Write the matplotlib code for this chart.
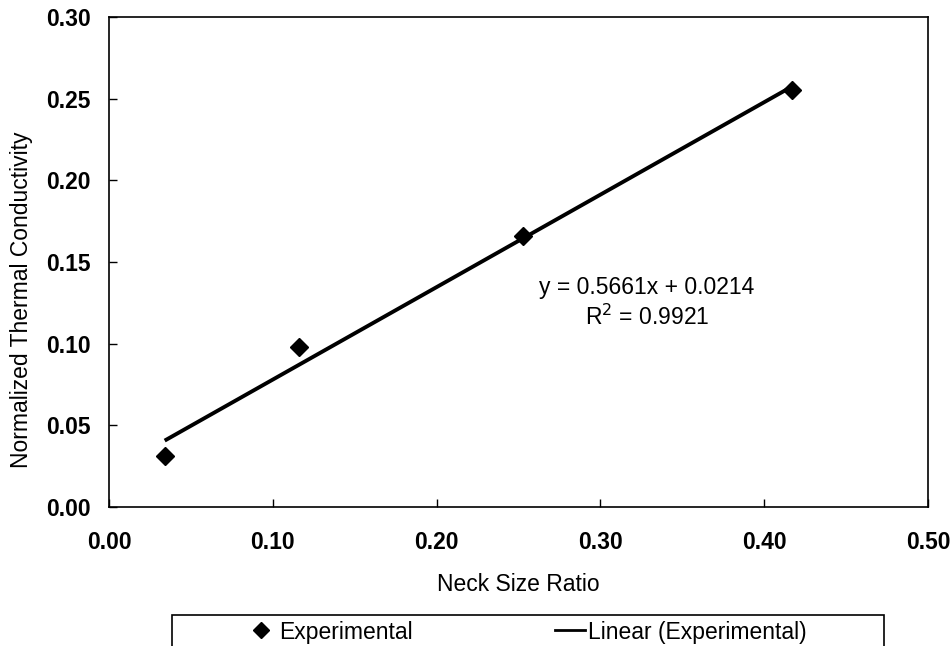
import matplotlib
matplotlib.use("Agg")
import matplotlib.pyplot as plt
from matplotlib.lines import Line2D
from matplotlib.patches import Rectangle

# data
neck_ratio = [0.034, 0.116, 0.253, 0.417]
conductivity = [0.031, 0.098, 0.166, 0.255]
slope = 0.5661
intercept = 0.0214
r_squared = 0.9921
x_ticks = [0.0, 0.1, 0.2, 0.3, 0.4, 0.5]
y_ticks = [0.0, 0.05, 0.10, 0.15, 0.20, 0.25, 0.30]

plt.rcParams['font.family'] = ['Liberation Sans', 'DejaVu Sans']
FS = 16.5

fig = plt.figure(figsize=(9.51, 6.46), dpi=100)
ax = fig.add_axes([109/951, 1 - 507/646, (928-109)/951, (507-17)/646])

# trendline over the data range
x_fit = [min(neck_ratio), max(neck_ratio)]
y_fit = [slope * x + intercept for x in x_fit]
ax.plot(x_fit, y_fit, color='black', lw=2.8, solid_capstyle='butt', zorder=2)
ax.plot(neck_ratio, conductivity, linestyle='none', marker='D', ms=9.5,
        color='black', zorder=3)

ax.set_xlim(0, 0.5)
ax.set_ylim(0, 0.3)
ax.set_xticks(x_ticks)
ax.set_yticks(y_ticks)
ax.set_xticklabels([f"{v:.2f}" for v in x_ticks], fontsize=FS, fontweight='bold')
ax.set_yticklabels([f"{v:.2f}" for v in y_ticks], fontsize=FS, fontweight='bold')
ax.tick_params(axis='x', direction='in', length=6, width=1, pad=17, top=False)
ax.tick_params(axis='y', direction='in', length=6, width=1, pad=13, right=False)
for s in ax.spines.values():
    s.set_linewidth(1.2)
    s.set_color('black')

ax.set_xlabel("Neck Size Ratio", fontsize=FS, labelpad=14)
ax.set_ylabel("Normalized Thermal Conductivity", fontsize=FS)
ax.yaxis.set_label_coords(-0.093, 0.422)

ax.text(0.3285, 0.1346, f"y = {slope}x + {intercept}", fontsize=FS,
        ha='center', va='center')
ax.text(0.3285, 0.1163, f"R$^2$ = {r_squared}", fontsize=FS,
        ha='center', va='center')

# legend box runs off the bottom of the figure
fig.patches.append(Rectangle((172/951, -0.1), (884-172)/951, 0.1 + 31/646,
                             transform=fig.transFigure, fill=False,
                             edgecolor='black', lw=1.2))
handles = [Line2D([], [], linestyle='none', marker='D', ms=8, color='black'),
           Line2D([], [], color='black', lw=2)]
fig.legend(handles, ["Experimental", "Linear (Experimental)"], ncol=2,
           frameon=False, loc='center left', bbox_to_anchor=(246/951, 1 - 632/646),
           fontsize=FS, handlelength=1.3, handletextpad=0.15, columnspacing=6.2,
           borderpad=0, borderaxespad=0)

fig.savefig("out.png", dpi=100)
